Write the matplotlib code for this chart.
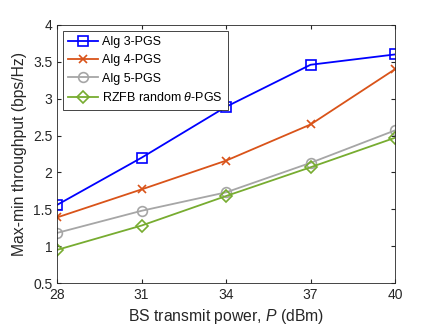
import matplotlib
matplotlib.use('Agg')
import matplotlib.pyplot as plt

plt.rcParams['font.family'] = ['Liberation Sans', 'DejaVu Sans']
plt.rcParams['mathtext.fontset'] = 'custom'
plt.rcParams['mathtext.rm'] = 'Liberation Sans'
plt.rcParams['mathtext.it'] = 'Liberation Sans:italic'

power = [28, 31, 34, 37, 40]
alg3 = [1.56, 2.20, 2.89, 3.46, 3.60]
alg4 = [1.39, 1.77, 2.16, 2.65, 3.40]
alg5 = [1.18, 1.48, 1.73, 2.13, 2.57]
rzfb = [0.95, 1.28, 1.68, 2.07, 2.47]
xticks = [28, 31, 34, 37, 40]
yticks = [0.5, 1, 1.5, 2, 2.5, 3, 3.5, 4]

fig = plt.figure(figsize=(4.36, 3.28), dpi=100)
ax = fig.add_axes([0.131, 0.137, 0.775, 0.787])

ax.plot(power, alg3, color='#0000ff', marker='s', ms=6.5, mfc='none', mew=1.2, lw=1.3, label='Alg 3-PGS')
ax.plot(power, alg4, color='#d95319', marker='x', ms=6, mew=1.2, lw=1.3, label='Alg 4-PGS')
ax.plot(power, alg5, color='#a6a6a6', marker='o', ms=7, mfc='none', mew=1.2, lw=1.3, label='Alg 5-PGS')
ax.plot(power, rzfb, color='#77ac30', marker='D', ms=6.5, mfc='none', mew=1.2, lw=1.3,
        label=r'RZFB random $\theta$-PGS')

ax.set_xlim(28, 40)
ax.set_ylim(0.5, 4)
ax.set_xticks(xticks)
ax.set_yticks(yticks)
ax.set_yticklabels(['0.5', '1', '1.5', '2', '2.5', '3', '3.5', '4'])
ax.tick_params(direction='in', top=True, right=True, labelsize=10, colors='#262626', length=3)
for s in ax.spines.values():
    s.set_color('#262626')
    s.set_linewidth(0.6)

ax.set_xlabel(r'BS transmit power, $P$ (dBm)', fontsize=11.3, color='#262626')
ax.set_ylabel('Max-min throughput (bps/Hz)', fontsize=11.3, color='#262626')

leg = ax.legend(loc='upper left', fontsize=9, fancybox=False, edgecolor='#262626',
                framealpha=1, handlelength=2.4, handletextpad=0.3, borderpad=0.45,
                labelspacing=0.5, borderaxespad=0.45)
leg.get_frame().set_linewidth(0.6)

fig.savefig('out.png', dpi=100)
